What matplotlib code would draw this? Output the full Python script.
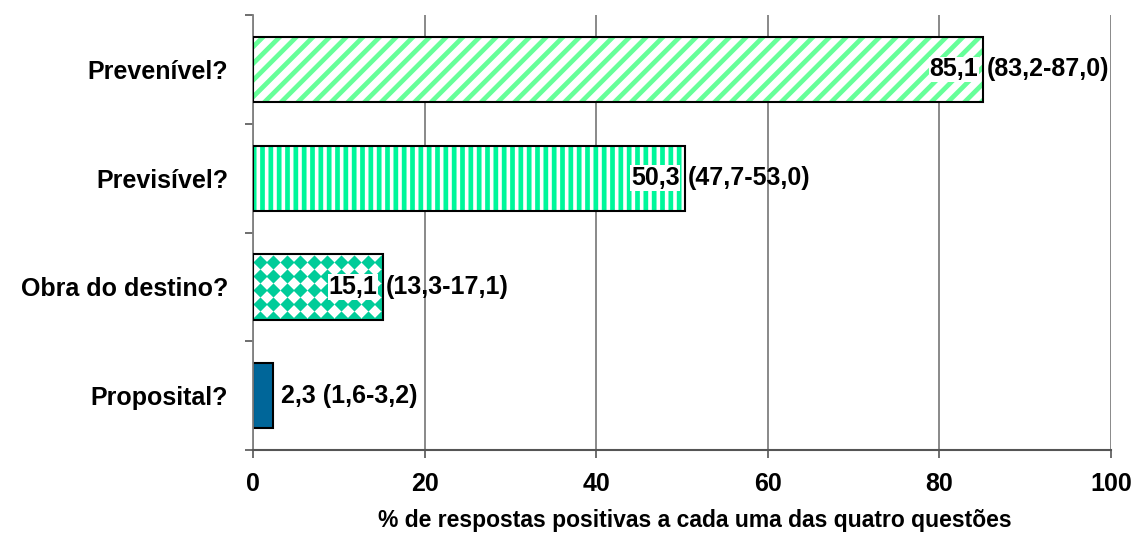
import numpy as np
import matplotlib
matplotlib.use("Agg")
import matplotlib.pyplot as plt

plt.rcParams['font.family'] = ['Liberation Sans', 'DejaVu Sans']
plt.rcParams['font.weight'] = 'bold'
plt.rcParams['hatch.linewidth'] = 3.4

categories = ['Prevenível?', 'Previsível?', 'Obra do destino?', 'Proposital?']
values = [85.1, 50.3, 15.1, 2.3]
value_labels = ['85,1', '50,3', '15,1', '2,3']
ci_labels = ['(83,2-87,0)', '(47,7-53,0)', '(13,3-17,1)', '(1,6-3,2)']
fill_colors = ['#66FF99', '#00F79A', '#00CC99', '#006699']
hatches = ['//', '||', 'diamond', None]
xticks = [0, 20, 40, 60, 80, 100]

fig = plt.figure(figsize=(11.44, 5.44), dpi=100)
ax = fig.add_axes([0.2212, 0.1728, 0.9712 - 0.2212, 0.9724 - 0.1728])

ypos = np.arange(len(categories))
h = 0.6
fs = 18

for i, (v, c, ht) in enumerate(zip(values, fill_colors, hatches)):
    if ht is None:
        ax.barh(i, v, height=h, color=c, edgecolor='black', linewidth=1.5, zorder=2)
        continue
    if ht == 'diamond':
        base = ax.barh(i, v, height=h, color='white', linewidth=0, zorder=2)[0]
        # diamond pattern fill, clipped to the bar
        xs = np.arange(0.8, v + 1.6, 1.57)
        ys = np.arange(i - h / 2 + 0.07, i + h / 2 + 0.13, 0.129)
        gx, gy = np.meshgrid(xs, ys)
        sc = ax.scatter(gx.ravel(), gy.ravel(), marker='D', s=52, color=c,
                        linewidths=0, zorder=2.5)
        sc.set_clip_path(base)
    else:
        ax.barh(i, v, height=h, color='white', edgecolor=c, hatch=ht,
                linewidth=0, zorder=2)
    ax.barh(i, v, height=h, fill=False, edgecolor='black', linewidth=1.5, zorder=3)

for i, v in enumerate(values):
    if v > 10:
        ax.text(v - 0.6, i, value_labels[i], ha='right', va='center', fontsize=fs,
                fontweight='bold', zorder=4,
                bbox=dict(facecolor='white', edgecolor='none', pad=0.5))
        ax.text(v + 0.4, i, ci_labels[i], ha='left', va='center', fontsize=fs,
                fontweight='bold', zorder=4)
    else:
        ax.text(v + 1.0, i, value_labels[i] + ' ' + ci_labels[i], ha='left',
                va='center', fontsize=fs, fontweight='bold', zorder=4)

ax.set_xlim(0, 100)
ax.set_ylim(len(categories) - 0.5, -0.5)
ax.set_xticks(xticks)
ax.set_xticklabels([str(t) for t in xticks], fontsize=fs, fontweight='bold')
ax.set_yticks(np.arange(-0.5, len(categories), 1.0))
ax.set_yticklabels([])
ax.set_yticks(ypos, categories, minor=True, fontsize=fs, fontweight='bold')
ax.tick_params(axis='y', which='minor', length=0, pad=18)
ax.tick_params(axis='y', which='major', length=6, width=1.2, color='#555555', direction='out')
ax.tick_params(axis='x', length=6, width=1.2, color='#555555', direction='out', pad=10)

ax.grid(axis='x', color='#808080', linewidth=1.3)
ax.set_axisbelow(True)
for s in ['top', 'right']:
    ax.spines[s].set_visible(False)
ax.spines['left'].set_color('#808080')
ax.spines['left'].set_linewidth(1.3)
ax.spines['bottom'].set_color('#555555')
ax.spines['bottom'].set_linewidth(1.5)

ax.set_xlabel('% de respostas positivas a cada uma das quatro questões',
              fontsize=16.5, fontweight='bold')
ax.xaxis.set_label_coords(0.515, -0.135)

fig.savefig('out.png', dpi=100)
